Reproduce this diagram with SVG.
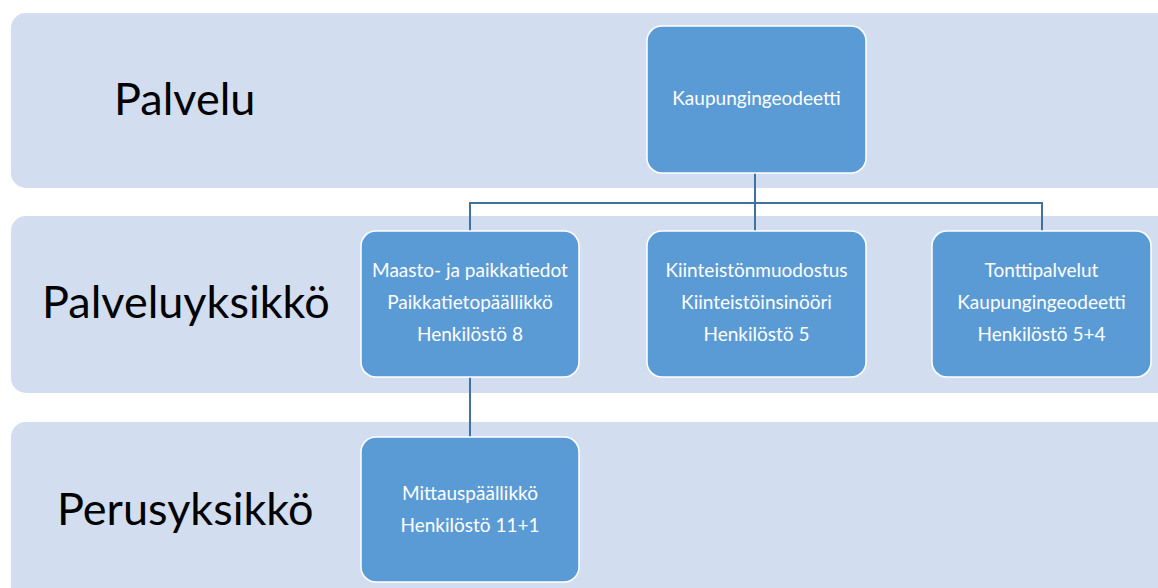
<svg xmlns="http://www.w3.org/2000/svg" width="1158" height="588" viewBox="0 0 1158 588">
  <style>
    .band { fill: #D2DEEF; }
    .level { font-family: Lato, "Open Sans", "Liberation Sans", sans-serif; font-size: 45px; fill: #000; }
    .box { fill: #5B9BD5; stroke: #FFFFFF; stroke-width: 1.5; }
    .lbl { font-family: Lato, "Open Sans", "Liberation Sans", sans-serif; font-size: 19px; fill: #FFFFFF; text-anchor: middle; }
    .conn { fill: none; stroke: #41719C; stroke-width: 2; }
  </style>
  <rect width="1158" height="588" fill="#FFFFFF"/>

  <!-- level bands -->
  <g id="band-palvelu">
    <rect class="band" x="11" y="13" width="1175" height="175" rx="15"/>
    <text class="level" x="114" y="115">Palvelu</text>
  </g>
  <g id="band-palveluyksikko">
    <rect class="band" x="11" y="216" width="1175" height="177" rx="15"/>
    <text class="level" x="42" y="318">Palveluyksikkö</text>
  </g>
  <g id="band-perusyksikko">
    <rect class="band" x="11" y="422" width="1175" height="190" rx="15"/>
    <text class="level" x="57" y="525">Perusyksikkö</text>
  </g>

  <!-- connectors -->
  <g id="connectors">
    <path class="conn" d="M755 173 V232"/>
    <path class="conn" d="M470 232 V203 H1042 V232"/>
    <path class="conn" d="M470 377 V437"/>
  </g>

  <!-- org nodes -->
  <g id="node-kaupungingeodeetti">
    <rect class="box" x="647" y="26" width="219" height="147" rx="15"/>
    <text class="lbl" x="756.5" y="105">Kaupungingeodeetti</text>
  </g>
  <g id="node-maasto">
    <rect class="box" x="361" y="231" width="218" height="146" rx="15"/>
    <text class="lbl" x="470" y="277">Maasto- ja paikkatiedot</text>
    <text class="lbl" x="470" y="309">Paikkatietopäällikkö</text>
    <text class="lbl" x="470" y="341">Henkilöstö 8</text>
  </g>
  <g id="node-kiinteisto">
    <rect class="box" x="647" y="231" width="219" height="146" rx="15"/>
    <text class="lbl" x="756.5" y="277">Kiinteistönmuodostus</text>
    <text class="lbl" x="756.5" y="309">Kiinteistöinsinööri</text>
    <text class="lbl" x="756.5" y="341">Henkilöstö 5</text>
  </g>
  <g id="node-tontti">
    <rect class="box" x="932" y="231" width="219" height="146" rx="15"/>
    <text class="lbl" x="1041.5" y="277">Tonttipalvelut</text>
    <text class="lbl" x="1041.5" y="309">Kaupungingeodeetti</text>
    <text class="lbl" x="1041.5" y="341">Henkilöstö 5+4</text>
  </g>
  <g id="node-mittaus">
    <rect class="box" x="361" y="437" width="218" height="145" rx="15"/>
    <text class="lbl" x="470" y="500">Mittauspäällikkö</text>
    <text class="lbl" x="470" y="532">Henkilöstö 11+1</text>
  </g>
</svg>
